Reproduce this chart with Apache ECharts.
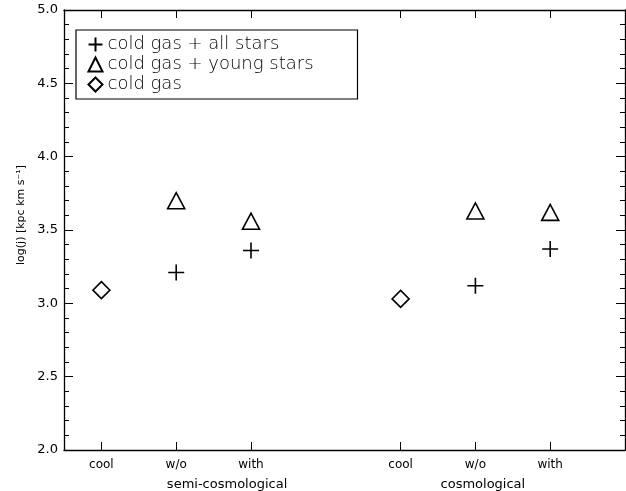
<!DOCTYPE html>
<html><head><meta charset="utf-8">
<script src="https://cdn.jsdelivr.net/npm/echarts@6/dist/echarts.min.js"></script>
<style>html,body{margin:0;padding:0;background:#fff}#c{width:626px;height:491px}</style>
</head><body><div id="c"></div>
<script>
// category positions on the x axis and their tick labels
const xPositions = [1, 2, 3, 5, 6, 7];
const xTickLabels = ['cool', 'w/o', 'with', 'cool', 'w/o', 'with'];
const groupPositions = [2.68, 6.1];
const groupLabels = ['semi-cosmological', 'cosmological'];
// series values
const allStarsX = [2, 3, 6, 7];
const allStarsY = [3.21, 3.36, 3.12, 3.37];
const youngStarsX = [2, 3, 6, 7];
const youngStarsY = [3.70, 3.56, 3.63, 3.62];
const coldGasX = [1, 5];
const coldGasY = [3.09, 3.03];
const yTicks = [2.0, 2.5, 3.0, 3.5, 4.0, 4.5, 5.0];
const seriesNames = ['cold gas + all stars', 'cold gas + young stars', 'cold gas'];

const FONT = 'DejaVu Sans';
const zip = (xs, ys) => xs.map((x, i) => [x, ys[i]]);
const labelMap = {};
xPositions.forEach((p, i) => labelMap[p] = xTickLabels[i]);
const groupMap = {};
groupPositions.forEach((p, i) => groupMap[p] = groupLabels[i]);

const axisLine = { show: true, onZero: false, lineStyle: { color: '#000', width: 1.3 } };
const tickStyle = { color: '#000', width: 1 };

const chart = echarts.init(document.getElementById('c'), null, { renderer: 'canvas' });
const markerStyle = { color: 'none', borderColor: '#000', borderWidth: 1.6, opacity: 1 };

chart.setOption({
  animation: false,
  backgroundColor: '#fff',
  grid: { left: 64, top: 10, right: 1, bottom: 39, containLabel: false },
  legend: {
    orient: 'vertical', left: 76, top: 30,
    borderColor: '#000', borderWidth: 1.2, borderRadius: 0,
    padding: [5, 10, 5, 10],
    itemWidth: 14, itemHeight: 14, itemGap: 1, itemTextGap: 6,
    itemStyle: { opacity: 1 },
    textStyle: { fontFamily: FONT, fontSize: 18, fontWeight: 200, color: '#000', width: 240, lineHeight: 18 },
    data: seriesNames.map(n => ({ name: n }))
  },
  xAxis: [
    {
      type: 'value', min: 0.5, max: 8, position: 'bottom',
      axisLine: axisLine, splitLine: { show: false },
      axisTick: { show: true, inside: true, length: 8, lineStyle: tickStyle, customValues: xPositions },
      axisLabel: { show: true, customValues: xPositions, formatter: v => labelMap[v] || '', margin: 9,
        fontFamily: FONT, fontSize: 12, color: '#000' }
    },
    {
      type: 'value', min: 0.5, max: 8, position: 'top',
      axisLine: axisLine, splitLine: { show: false },
      axisTick: { show: true, inside: true, length: 8, lineStyle: tickStyle, customValues: xPositions },
      axisLabel: { show: false }
    },
    {
      type: 'value', min: 0.5, max: 8, position: 'bottom', offset: 20,
      axisLine: { show: false }, splitLine: { show: false }, axisTick: { show: false },
      axisLabel: { show: true, customValues: groupPositions, formatter: v => groupMap[v] || '', margin: 8,
        fontFamily: FONT, fontSize: 13, color: '#000' }
    }
  ],
  yAxis: [
    {
      type: 'value', min: 2, max: 5, interval: 0.5, position: 'left',
      name: 'log(j) [kpc km s⁻¹]', nameLocation: 'middle', nameGap: 36,
      nameTextStyle: { fontFamily: FONT, fontSize: 11, color: '#000', padding: [0, 0, 0, 30] },
      axisLine: axisLine, splitLine: { show: false },
      axisTick: { show: true, inside: true, length: 9, lineStyle: tickStyle },
      minorTick: { show: true, splitNumber: 5, length: 5, lineStyle: tickStyle },
      axisLabel: { formatter: v => v.toFixed(1), margin: 6, fontFamily: FONT, fontSize: 13, color: '#000' }
    },
    {
      type: 'value', min: 2, max: 5, interval: 0.5, position: 'right',
      axisLine: axisLine, splitLine: { show: false },
      axisTick: { show: true, inside: true, length: 9, lineStyle: tickStyle },
      minorTick: { show: true, splitNumber: 5, length: 5, lineStyle: tickStyle },
      axisLabel: { show: false }
    }
  ],
  series: [
    {
      name: seriesNames[0], type: 'scatter', xAxisIndex: 0, yAxisIndex: 0,
      symbol: 'path://M0,-1L0,1M-1,0L1,0', symbolSize: 16,
      itemStyle: markerStyle, data: zip(allStarsX, allStarsY)
    },
    {
      name: seriesNames[1], type: 'scatter', xAxisIndex: 0, yAxisIndex: 0,
      symbol: 'path://M-1,1L0,-1L1,1Z', symbolSize: [17, 16],
      itemStyle: markerStyle, data: zip(youngStarsX, youngStarsY)
    },
    {
      name: seriesNames[2], type: 'scatter', xAxisIndex: 0, yAxisIndex: 0,
      symbol: 'path://M0,-1L1,0L0,1L-1,0Z', symbolSize: 17,
      itemStyle: markerStyle, data: zip(coldGasX, coldGasY)
    }
  ]
});
</script></body></html>
